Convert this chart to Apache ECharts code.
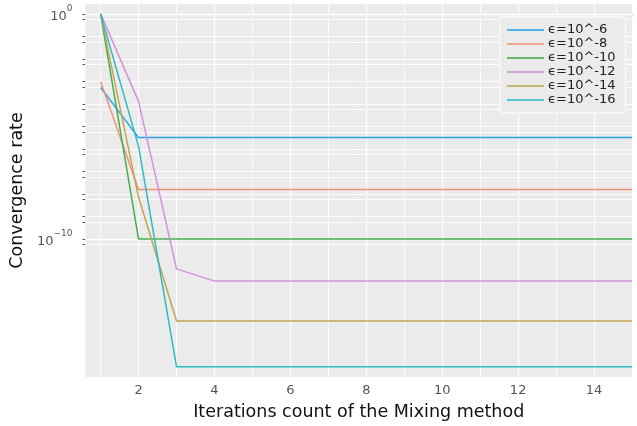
<!DOCTYPE html>
<html><head><meta charset="utf-8">
<script src="https://cdn.jsdelivr.net/npm/echarts@6/dist/echarts.min.js"></script>
<style>html,body{margin:0;padding:0;background:#fff}#c{width:637px;height:426px}</style>
</head><body><div id="c"></div>
<script>
const iterations = [1,2,3,4,5,6,7,8,9,10,11,12,13,14,15];
const seriesNames = ['ϵ=10^-6','ϵ=10^-8','ϵ=10^-10','ϵ=10^-12','ϵ=10^-14','ϵ=10^-16'];
const eps6  = [5.4e-4,3.2e-6,3.2e-6,3.2e-6,3.2e-6,3.2e-6,3.2e-6,3.2e-6,3.2e-6,3.2e-6,3.2e-6,3.2e-6,3.2e-6,3.2e-6,3.2e-6];
const eps8  = [1.0e-3,1.6e-8,1.6e-8,1.6e-8,1.6e-8,1.6e-8,1.6e-8,1.6e-8,1.6e-8,1.6e-8,1.6e-8,1.6e-8,1.6e-8,1.6e-8,1.6e-8];
const eps10 = [1,1.0e-10,1.0e-10,1.0e-10,1.0e-10,1.0e-10,1.0e-10,1.0e-10,1.0e-10,1.0e-10,1.0e-10,1.0e-10,1.0e-10,1.0e-10,1.0e-10];
const eps12 = [1,1.3e-4,4.7e-12,1.35e-12,1.35e-12,1.35e-12,1.35e-12,1.35e-12,1.35e-12,1.35e-12,1.35e-12,1.35e-12,1.35e-12,1.35e-12,1.35e-12];
const eps14 = [1,7.1e-9,2.3e-14,2.3e-14,2.3e-14,2.3e-14,2.3e-14,2.3e-14,2.3e-14,2.3e-14,2.3e-14,2.3e-14,2.3e-14,2.3e-14,2.3e-14];
const eps16 = [1,1.3e-6,2.1e-16,2.1e-16,2.1e-16,2.1e-16,2.1e-16,2.1e-16,2.1e-16,2.1e-16,2.1e-16,2.1e-16,2.1e-16,2.1e-16,2.1e-16];
const xTickLabels = [2,4,6,8,10,12,14];
const yTickExponents = [0,-10];
const colors = ['#1f9fef','#ef8c6f','#3aab45','#d38ae0','#bfa24a','#22b8c0'];

const allSeries = [eps6,eps8,eps10,eps12,eps14,eps16];
const yGrid = [];
for (let k = 0; k <= 10; k++) { yGrid.push(-k); yGrid.push(-k - 0.25); }

const chart = echarts.init(document.getElementById('c'));
const font = 'DejaVu Sans';
const series = allSeries.map((vals, i) => ({
  name: seriesNames[i], type: 'line', showSymbol: false, symbol: 'none',
  data: iterations.map((x, j) => [x, Math.log10(vals[j])]),
  lineStyle: { width: 1.5, color: colors[i], opacity: 0.95 },
  itemStyle: { color: colors[i] },
  z: 3, animation: false
}));
series.push({
  name: 'grid', type: 'line', data: [], silent: true, z: 1, animation: false,
  markLine: {
    z: 1, silent: true, symbol: ['none','none'], animation: false,
    label: { show: false },
    emphasis: { disabled: true },
    data: iterations.map(x => ({ xAxis: x, lineStyle: { color: '#ffffff', width: x % 2 === 0 ? 1.2 : 0.8, type: 'solid' } }))
      .concat(yGrid.map(y => ({ yAxis: y, lineStyle: { color: '#ffffff', width: (y === 0 || y === -10) ? 1.3 : 0.9, type: 'solid' } })))
  }
});

chart.setOption({
  animation: false,
  textStyle: { fontFamily: font },
  grid: { left: 85, right: 5, top: 4, bottom: 49, show: true, backgroundColor: '#ebebeb', borderWidth: 0 },
  xAxis: {
    type: 'value', min: 0.6, max: 15,
    name: 'Iterations count of the Mixing method', nameLocation: 'middle', nameGap: 26,
    nameTextStyle: { fontSize: 17.5, color: '#111', fontFamily: font },
    axisLine: { show: false },
    splitLine: { show: false },
    axisTick: { show: true, customValues: iterations, length: 3, lineStyle: { color: '#555' } },
    axisLabel: { customValues: xTickLabels, color: '#555', fontSize: 13, margin: 7, fontFamily: font }
  },
  yAxis: {
    type: 'value', min: -16.13, max: 0.44,
    name: 'Convergence rate', nameLocation: 'middle', nameGap: 52,
    nameTextStyle: { fontSize: 17.5, color: '#111', fontFamily: font },
    axisLine: { show: false },
    splitLine: { show: false },
    axisTick: { show: true, customValues: yGrid, length: 3, lineStyle: { color: '#555' } },
    axisLabel: {
      customValues: yTickExponents, color: '#555', margin: 13, fontFamily: font,
      formatter: v => '{b|10}{s|' + (v === 0 ? '0' : '\u2212' + Math.abs(v)) + '}',
      rich: {
        b: { fontSize: 13, color: '#555', fontFamily: font, verticalAlign: 'bottom', padding: [6,0,0,0] },
        s: { fontSize: 9, color: '#555', fontFamily: font, verticalAlign: 'top', padding: [0,0,6,0] }
      }
    }
  },
  legend: {
    data: seriesNames.map((n, i) => ({ name: n, icon: 'rect', itemStyle: { color: colors[i], opacity: 0.75 } })),
    orient: 'vertical', left: 500, top: 17,
    itemWidth: 37, itemHeight: 2, itemGap: 0,
    padding: [6, 10, 6, 7],
    backgroundColor: '#ebebeb', borderColor: '#f7f7f7', borderWidth: 1.5, borderRadius: 3,
    textStyle: { fontSize: 13, color: '#222', fontFamily: font, lineHeight: 14, padding: [0,0,0,-1] }
  },
  series: series
});
</script></body></html>
